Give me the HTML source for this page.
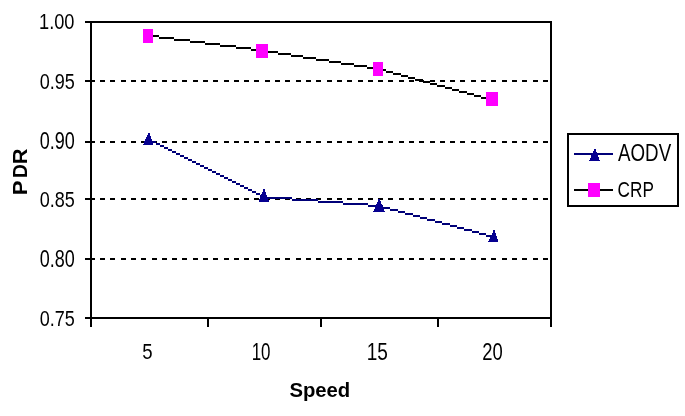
<!DOCTYPE html>
<html><head><meta charset="utf-8"><style>
html,body{margin:0;padding:0;background:#fff;}
body{width:685px;height:416px;position:relative;overflow:hidden;}
.t{position:absolute;font-family:"Liberation Sans",sans-serif;color:#000;white-space:pre;transform-origin:0 0;filter:grayscale(1);}
</style></head><body>
<svg width="685" height="416" style="position:absolute;left:0;top:0"><rect x="85" y="21" width="467" height="2" fill="#000"/><rect x="85" y="317" width="467" height="2" fill="#000"/><rect x="90" y="21" width="2" height="306" fill="#000"/><rect x="550" y="21" width="2" height="306" fill="#000"/><rect x="207" y="319" width="2" height="8" fill="#000"/><rect x="320" y="319" width="2" height="8" fill="#000"/><rect x="437" y="319" width="2" height="8" fill="#000"/><rect x="85" y="80" width="5" height="2" fill="#000"/><rect x="90" y="80" width="5" height="2" fill="#000"/><rect x="100" y="80" width="5" height="2" fill="#000"/><rect x="110" y="80" width="5" height="2" fill="#000"/><rect x="121" y="80" width="5" height="2" fill="#000"/><rect x="131" y="80" width="5" height="2" fill="#000"/><rect x="141" y="80" width="5" height="2" fill="#000"/><rect x="152" y="80" width="5" height="2" fill="#000"/><rect x="162" y="80" width="5" height="2" fill="#000"/><rect x="172" y="80" width="5" height="2" fill="#000"/><rect x="182" y="80" width="5" height="2" fill="#000"/><rect x="193" y="80" width="5" height="2" fill="#000"/><rect x="203" y="80" width="5" height="2" fill="#000"/><rect x="213" y="80" width="5" height="2" fill="#000"/><rect x="224" y="80" width="5" height="2" fill="#000"/><rect x="234" y="80" width="5" height="2" fill="#000"/><rect x="244" y="80" width="5" height="2" fill="#000"/><rect x="254" y="80" width="5" height="2" fill="#000"/><rect x="265" y="80" width="5" height="2" fill="#000"/><rect x="275" y="80" width="5" height="2" fill="#000"/><rect x="285" y="80" width="5" height="2" fill="#000"/><rect x="296" y="80" width="5" height="2" fill="#000"/><rect x="306" y="80" width="5" height="2" fill="#000"/><rect x="316" y="80" width="5" height="2" fill="#000"/><rect x="327" y="80" width="5" height="2" fill="#000"/><rect x="337" y="80" width="5" height="2" fill="#000"/><rect x="347" y="80" width="5" height="2" fill="#000"/><rect x="358" y="80" width="5" height="2" fill="#000"/><rect x="368" y="80" width="5" height="2" fill="#000"/><rect x="378" y="80" width="5" height="2" fill="#000"/><rect x="388" y="80" width="5" height="2" fill="#000"/><rect x="399" y="80" width="5" height="2" fill="#000"/><rect x="409" y="80" width="5" height="2" fill="#000"/><rect x="419" y="80" width="5" height="2" fill="#000"/><rect x="430" y="80" width="5" height="2" fill="#000"/><rect x="440" y="80" width="5" height="2" fill="#000"/><rect x="450" y="80" width="5" height="2" fill="#000"/><rect x="460" y="80" width="5" height="2" fill="#000"/><rect x="471" y="80" width="5" height="2" fill="#000"/><rect x="481" y="80" width="5" height="2" fill="#000"/><rect x="491" y="80" width="5" height="2" fill="#000"/><rect x="502" y="80" width="5" height="2" fill="#000"/><rect x="512" y="80" width="5" height="2" fill="#000"/><rect x="522" y="80" width="5" height="2" fill="#000"/><rect x="533" y="80" width="5" height="2" fill="#000"/><rect x="543" y="80" width="5" height="2" fill="#000"/><rect x="85" y="141" width="5" height="2" fill="#000"/><rect x="90" y="141" width="5" height="2" fill="#000"/><rect x="100" y="141" width="5" height="2" fill="#000"/><rect x="110" y="141" width="5" height="2" fill="#000"/><rect x="121" y="141" width="5" height="2" fill="#000"/><rect x="131" y="141" width="5" height="2" fill="#000"/><rect x="141" y="141" width="5" height="2" fill="#000"/><rect x="152" y="141" width="5" height="2" fill="#000"/><rect x="162" y="141" width="5" height="2" fill="#000"/><rect x="172" y="141" width="5" height="2" fill="#000"/><rect x="182" y="141" width="5" height="2" fill="#000"/><rect x="193" y="141" width="5" height="2" fill="#000"/><rect x="203" y="141" width="5" height="2" fill="#000"/><rect x="213" y="141" width="5" height="2" fill="#000"/><rect x="224" y="141" width="5" height="2" fill="#000"/><rect x="234" y="141" width="5" height="2" fill="#000"/><rect x="244" y="141" width="5" height="2" fill="#000"/><rect x="254" y="141" width="5" height="2" fill="#000"/><rect x="265" y="141" width="5" height="2" fill="#000"/><rect x="275" y="141" width="5" height="2" fill="#000"/><rect x="285" y="141" width="5" height="2" fill="#000"/><rect x="296" y="141" width="5" height="2" fill="#000"/><rect x="306" y="141" width="5" height="2" fill="#000"/><rect x="316" y="141" width="5" height="2" fill="#000"/><rect x="327" y="141" width="5" height="2" fill="#000"/><rect x="337" y="141" width="5" height="2" fill="#000"/><rect x="347" y="141" width="5" height="2" fill="#000"/><rect x="358" y="141" width="5" height="2" fill="#000"/><rect x="368" y="141" width="5" height="2" fill="#000"/><rect x="378" y="141" width="5" height="2" fill="#000"/><rect x="388" y="141" width="5" height="2" fill="#000"/><rect x="399" y="141" width="5" height="2" fill="#000"/><rect x="409" y="141" width="5" height="2" fill="#000"/><rect x="419" y="141" width="5" height="2" fill="#000"/><rect x="430" y="141" width="5" height="2" fill="#000"/><rect x="440" y="141" width="5" height="2" fill="#000"/><rect x="450" y="141" width="5" height="2" fill="#000"/><rect x="460" y="141" width="5" height="2" fill="#000"/><rect x="471" y="141" width="5" height="2" fill="#000"/><rect x="481" y="141" width="5" height="2" fill="#000"/><rect x="491" y="141" width="5" height="2" fill="#000"/><rect x="502" y="141" width="5" height="2" fill="#000"/><rect x="512" y="141" width="5" height="2" fill="#000"/><rect x="522" y="141" width="5" height="2" fill="#000"/><rect x="533" y="141" width="5" height="2" fill="#000"/><rect x="543" y="141" width="5" height="2" fill="#000"/><rect x="85" y="198" width="5" height="2" fill="#000"/><rect x="90" y="198" width="5" height="2" fill="#000"/><rect x="100" y="198" width="5" height="2" fill="#000"/><rect x="110" y="198" width="5" height="2" fill="#000"/><rect x="121" y="198" width="5" height="2" fill="#000"/><rect x="131" y="198" width="5" height="2" fill="#000"/><rect x="141" y="198" width="5" height="2" fill="#000"/><rect x="152" y="198" width="5" height="2" fill="#000"/><rect x="162" y="198" width="5" height="2" fill="#000"/><rect x="172" y="198" width="5" height="2" fill="#000"/><rect x="182" y="198" width="5" height="2" fill="#000"/><rect x="193" y="198" width="5" height="2" fill="#000"/><rect x="203" y="198" width="5" height="2" fill="#000"/><rect x="213" y="198" width="5" height="2" fill="#000"/><rect x="224" y="198" width="5" height="2" fill="#000"/><rect x="234" y="198" width="5" height="2" fill="#000"/><rect x="244" y="198" width="5" height="2" fill="#000"/><rect x="254" y="198" width="5" height="2" fill="#000"/><rect x="265" y="198" width="5" height="2" fill="#000"/><rect x="275" y="198" width="5" height="2" fill="#000"/><rect x="285" y="198" width="5" height="2" fill="#000"/><rect x="296" y="198" width="5" height="2" fill="#000"/><rect x="306" y="198" width="5" height="2" fill="#000"/><rect x="316" y="198" width="5" height="2" fill="#000"/><rect x="327" y="198" width="5" height="2" fill="#000"/><rect x="337" y="198" width="5" height="2" fill="#000"/><rect x="347" y="198" width="5" height="2" fill="#000"/><rect x="358" y="198" width="5" height="2" fill="#000"/><rect x="368" y="198" width="5" height="2" fill="#000"/><rect x="378" y="198" width="5" height="2" fill="#000"/><rect x="388" y="198" width="5" height="2" fill="#000"/><rect x="399" y="198" width="5" height="2" fill="#000"/><rect x="409" y="198" width="5" height="2" fill="#000"/><rect x="419" y="198" width="5" height="2" fill="#000"/><rect x="430" y="198" width="5" height="2" fill="#000"/><rect x="440" y="198" width="5" height="2" fill="#000"/><rect x="450" y="198" width="5" height="2" fill="#000"/><rect x="460" y="198" width="5" height="2" fill="#000"/><rect x="471" y="198" width="5" height="2" fill="#000"/><rect x="481" y="198" width="5" height="2" fill="#000"/><rect x="491" y="198" width="5" height="2" fill="#000"/><rect x="502" y="198" width="5" height="2" fill="#000"/><rect x="512" y="198" width="5" height="2" fill="#000"/><rect x="522" y="198" width="5" height="2" fill="#000"/><rect x="533" y="198" width="5" height="2" fill="#000"/><rect x="543" y="198" width="5" height="2" fill="#000"/><rect x="85" y="258" width="5" height="2" fill="#000"/><rect x="90" y="258" width="5" height="2" fill="#000"/><rect x="100" y="258" width="5" height="2" fill="#000"/><rect x="110" y="258" width="5" height="2" fill="#000"/><rect x="121" y="258" width="5" height="2" fill="#000"/><rect x="131" y="258" width="5" height="2" fill="#000"/><rect x="141" y="258" width="5" height="2" fill="#000"/><rect x="152" y="258" width="5" height="2" fill="#000"/><rect x="162" y="258" width="5" height="2" fill="#000"/><rect x="172" y="258" width="5" height="2" fill="#000"/><rect x="182" y="258" width="5" height="2" fill="#000"/><rect x="193" y="258" width="5" height="2" fill="#000"/><rect x="203" y="258" width="5" height="2" fill="#000"/><rect x="213" y="258" width="5" height="2" fill="#000"/><rect x="224" y="258" width="5" height="2" fill="#000"/><rect x="234" y="258" width="5" height="2" fill="#000"/><rect x="244" y="258" width="5" height="2" fill="#000"/><rect x="254" y="258" width="5" height="2" fill="#000"/><rect x="265" y="258" width="5" height="2" fill="#000"/><rect x="275" y="258" width="5" height="2" fill="#000"/><rect x="285" y="258" width="5" height="2" fill="#000"/><rect x="296" y="258" width="5" height="2" fill="#000"/><rect x="306" y="258" width="5" height="2" fill="#000"/><rect x="316" y="258" width="5" height="2" fill="#000"/><rect x="327" y="258" width="5" height="2" fill="#000"/><rect x="337" y="258" width="5" height="2" fill="#000"/><rect x="347" y="258" width="5" height="2" fill="#000"/><rect x="358" y="258" width="5" height="2" fill="#000"/><rect x="368" y="258" width="5" height="2" fill="#000"/><rect x="378" y="258" width="5" height="2" fill="#000"/><rect x="388" y="258" width="5" height="2" fill="#000"/><rect x="399" y="258" width="5" height="2" fill="#000"/><rect x="409" y="258" width="5" height="2" fill="#000"/><rect x="419" y="258" width="5" height="2" fill="#000"/><rect x="430" y="258" width="5" height="2" fill="#000"/><rect x="440" y="258" width="5" height="2" fill="#000"/><rect x="450" y="258" width="5" height="2" fill="#000"/><rect x="460" y="258" width="5" height="2" fill="#000"/><rect x="471" y="258" width="5" height="2" fill="#000"/><rect x="481" y="258" width="5" height="2" fill="#000"/><rect x="491" y="258" width="5" height="2" fill="#000"/><rect x="502" y="258" width="5" height="2" fill="#000"/><rect x="512" y="258" width="5" height="2" fill="#000"/><rect x="522" y="258" width="5" height="2" fill="#000"/><rect x="533" y="258" width="5" height="2" fill="#000"/><rect x="543" y="258" width="5" height="2" fill="#000"/><rect x="148" y="139" width="4" height="2" fill="#000078"/><rect x="152" y="141" width="4" height="2" fill="#000078"/><rect x="156" y="143" width="4" height="2" fill="#000078"/><rect x="160" y="145" width="4" height="2" fill="#000078"/><rect x="164" y="147" width="4" height="2" fill="#000078"/><rect x="168" y="149" width="4" height="2" fill="#000078"/><rect x="172" y="151" width="4" height="2" fill="#000078"/><rect x="176" y="153" width="4" height="2" fill="#000078"/><rect x="180" y="155" width="4" height="2" fill="#000078"/><rect x="184" y="157" width="4" height="2" fill="#000078"/><rect x="188" y="159" width="4" height="2" fill="#000078"/><rect x="192" y="161" width="4" height="2" fill="#000078"/><rect x="196" y="163" width="4" height="2" fill="#000078"/><rect x="200" y="165" width="4" height="2" fill="#000078"/><rect x="204" y="167" width="4" height="2" fill="#000078"/><rect x="208" y="169" width="4" height="2" fill="#000078"/><rect x="212" y="171" width="4" height="2" fill="#000078"/><rect x="216" y="173" width="4" height="2" fill="#000078"/><rect x="220" y="175" width="4" height="2" fill="#000078"/><rect x="224" y="177" width="4" height="2" fill="#000078"/><rect x="228" y="179" width="4" height="2" fill="#000078"/><rect x="232" y="181" width="4" height="2" fill="#000078"/><rect x="236" y="183" width="4" height="2" fill="#000078"/><rect x="240" y="185" width="4" height="2" fill="#000078"/><rect x="244" y="187" width="4" height="2" fill="#000078"/><rect x="248" y="189" width="4" height="2" fill="#000078"/><rect x="252" y="191" width="4" height="2" fill="#000078"/><rect x="256" y="193" width="4" height="2" fill="#000078"/><rect x="260" y="195" width="4" height="2" fill="#000078"/><rect x="264" y="195" width="3" height="2" fill="#000078"/><rect x="267" y="197" width="25" height="2" fill="#000078"/><rect x="292" y="199" width="26" height="2" fill="#000078"/><rect x="318" y="201" width="25" height="2" fill="#000078"/><rect x="343" y="203" width="25" height="2" fill="#000078"/><rect x="368" y="205" width="11" height="2" fill="#000078"/><rect x="379" y="205" width="4" height="2" fill="#000078"/><rect x="383" y="207" width="7" height="2" fill="#000078"/><rect x="390" y="209" width="8" height="2" fill="#000078"/><rect x="398" y="211" width="7" height="2" fill="#000078"/><rect x="405" y="213" width="8" height="2" fill="#000078"/><rect x="413" y="215" width="7" height="2" fill="#000078"/><rect x="420" y="217" width="7" height="2" fill="#000078"/><rect x="427" y="219" width="8" height="2" fill="#000078"/><rect x="435" y="221" width="7" height="2" fill="#000078"/><rect x="442" y="223" width="8" height="2" fill="#000078"/><rect x="450" y="225" width="7" height="2" fill="#000078"/><rect x="457" y="227" width="7" height="2" fill="#000078"/><rect x="464" y="229" width="8" height="2" fill="#000078"/><rect x="472" y="231" width="7" height="2" fill="#000078"/><rect x="479" y="233" width="7" height="2" fill="#000078"/><rect x="486" y="235" width="8" height="2" fill="#000078"/><rect x="148" y="35" width="11" height="2" fill="#000"/><rect x="159" y="37" width="15" height="2" fill="#000"/><rect x="174" y="39" width="16" height="2" fill="#000"/><rect x="190" y="41" width="15" height="2" fill="#000"/><rect x="205" y="43" width="15" height="2" fill="#000"/><rect x="220" y="45" width="16" height="2" fill="#000"/><rect x="236" y="47" width="15" height="2" fill="#000"/><rect x="251" y="49" width="11" height="2" fill="#000"/><rect x="262" y="49" width="4" height="2" fill="#000"/><rect x="266" y="51" width="12" height="2" fill="#000"/><rect x="278" y="53" width="13" height="2" fill="#000"/><rect x="291" y="55" width="12" height="2" fill="#000"/><rect x="303" y="57" width="13" height="2" fill="#000"/><rect x="316" y="59" width="13" height="2" fill="#000"/><rect x="329" y="61" width="12" height="2" fill="#000"/><rect x="341" y="63" width="13" height="2" fill="#000"/><rect x="354" y="65" width="13" height="2" fill="#000"/><rect x="367" y="67" width="11" height="2" fill="#000"/><rect x="378" y="67" width="1" height="2" fill="#000"/><rect x="379" y="69" width="7" height="2" fill="#000"/><rect x="386" y="71" width="7" height="2" fill="#000"/><rect x="393" y="73" width="8" height="2" fill="#000"/><rect x="401" y="75" width="7" height="2" fill="#000"/><rect x="408" y="77" width="7" height="2" fill="#000"/><rect x="415" y="79" width="8" height="2" fill="#000"/><rect x="423" y="81" width="7" height="2" fill="#000"/><rect x="430" y="83" width="7" height="2" fill="#000"/><rect x="437" y="85" width="8" height="2" fill="#000"/><rect x="445" y="87" width="7" height="2" fill="#000"/><rect x="452" y="89" width="7" height="2" fill="#000"/><rect x="459" y="91" width="8" height="2" fill="#000"/><rect x="467" y="93" width="7" height="2" fill="#000"/><rect x="474" y="95" width="7" height="2" fill="#000"/><rect x="481" y="97" width="8" height="2" fill="#000"/><rect x="489" y="99" width="3" height="2" fill="#000"/><rect x="143" y="29" width="10" height="14" fill="#ff00ff"/><rect x="256" y="44" width="12" height="14" fill="#ff00ff"/><rect x="373" y="62" width="10" height="14" fill="#ff00ff"/><rect x="486" y="92" width="12" height="14" fill="#ff00ff"/><polygon points="148.5,132.6 149.5,132.6 153.3,145.0 142.9,145.0" fill="#060090" shape-rendering="crispEdges"/><polygon points="263.6,189.2 264.6,189.2 269.0,201.8 258.4,201.8" fill="#060090" shape-rendering="crispEdges"/><polygon points="378.6,199.2 379.6,199.2 384.8,211.8 373.2,211.8" fill="#060090" shape-rendering="crispEdges"/><polygon points="493.7,230.1 494.7,230.1 498.5,242.0 488.1,242.0" fill="#060090" shape-rendering="crispEdges"/><rect x="574" y="153" width="39" height="2" fill="#000078"/><polygon points="594.5,148.8 595.5,148.8 600.0,161.0 589.0,161.0" fill="#060090" shape-rendering="crispEdges"/><rect x="574" y="189" width="39" height="2" fill="#000"/><rect x="588" y="183" width="12" height="14" fill="#ff00ff"/></svg>
<div style="position:absolute;left:567px;top:133px;width:112px;height:74px;box-sizing:border-box;border:2px solid #000"></div>
<div class="t" style="left:39.00px;top:9.55px;font-size:18.233px;line-height:18.233px;font-weight:normal;transform:scaleY(1.2499)">1.00</div><div class="t" style="left:39.75px;top:69.63px;font-size:18.030px;line-height:18.030px;font-weight:normal;transform:scaleY(1.2444)">0.95</div><div class="t" style="left:39.75px;top:127.54px;font-size:18.001px;line-height:18.001px;font-weight:normal;transform:scaleY(1.3771)">0.90</div><div class="t" style="left:39.75px;top:187.60px;font-size:18.030px;line-height:18.030px;font-weight:normal;transform:scaleY(1.2444)">0.85</div><div class="t" style="left:39.75px;top:245.61px;font-size:18.001px;line-height:18.001px;font-weight:normal;transform:scaleY(1.3771)">0.80</div><div class="t" style="left:39.75px;top:306.57px;font-size:18.030px;line-height:18.030px;font-weight:normal;transform:scaleY(1.2444)">0.75</div><div class="t" style="left:142.18px;top:340.51px;font-size:18.613px;line-height:18.613px;font-weight:normal;transform:scaleY(1.1735)">5</div><div class="t" style="left:251.68px;top:339.69px;font-size:16.978px;line-height:16.978px;font-weight:normal;transform:scaleY(1.3987)">10</div><div class="t" style="left:366.64px;top:338.62px;font-size:19.043px;line-height:19.043px;font-weight:normal;transform:scaleY(1.2880)">15</div><div class="t" style="left:482.15px;top:339.50px;font-size:18.460px;line-height:18.460px;font-weight:normal;transform:scaleY(1.3138)">20</div><div class="t" style="left:618.04px;top:140.52px;font-size:18.743px;line-height:18.743px;font-weight:normal;transform:scaleY(1.3015)">AODV</div><div class="t" style="left:617.60px;top:177.50px;font-size:17.209px;line-height:17.209px;font-weight:normal;transform:scaleY(1.3275)">CRP</div><div class="t" style="left:289.38px;top:378.56px;font-size:20.299px;line-height:20.299px;font-weight:bold;transform:scaleY(1.0314)">Speed</div><div class="t" style="left:0;top:0;font-size:19.565px;line-height:19.565px;font-weight:bold;transform:translate(10.57px,195.16px) rotate(-90deg) scaleX(1.1409)">P</div><div class="t" style="left:0;top:0;font-size:19.565px;line-height:19.565px;font-weight:bold;transform:translate(10.57px,178.10px) rotate(-90deg) scaleX(0.9845)">D</div><div class="t" style="left:0;top:0;font-size:19.565px;line-height:19.565px;font-weight:bold;transform:translate(10.57px,164.13px) rotate(-90deg) scaleX(1.1196)">R</div>
</body></html>
